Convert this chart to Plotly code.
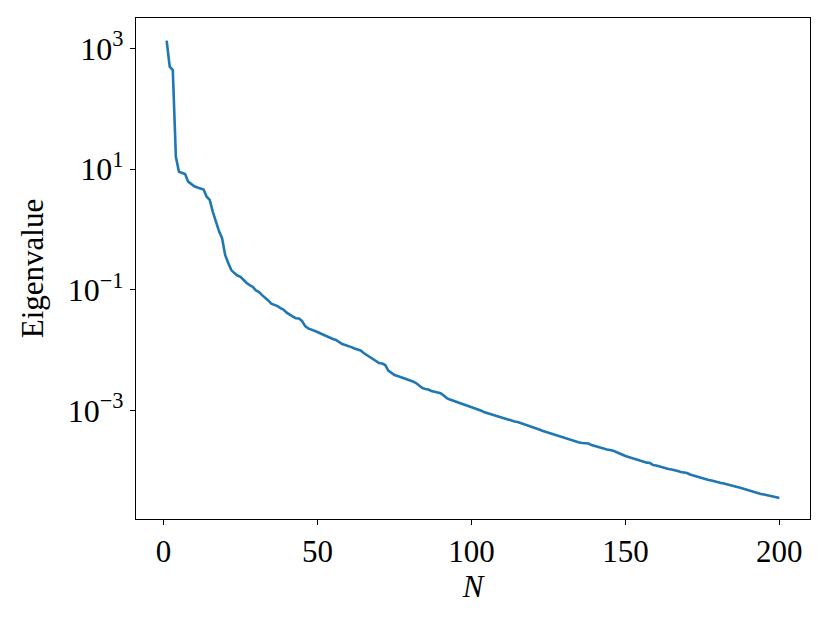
import plotly.graph_objects as go

# Eigenvalue index
n_values = list(range(1, 201))

# Eigenvalues (log scale)
eigenvalues = [
    1340, 495, 437, 16.0, 9.06, 8.7, 8.3, 6.2, 5.6, 5.2,
    4.95, 4.8, 4.6, 3.5, 3.1, 1.96, 1.33, 0.94, 0.72, 0.38,
    0.28, 0.213, 0.19, 0.173, 0.165, 0.146, 0.130, 0.120, 0.112, 0.098,
    0.092, 0.082, 0.075, 0.067, 0.059, 0.057, 0.054, 0.050, 0.047, 0.042,
    0.0385, 0.036, 0.034, 0.0336, 0.0305, 0.0252, 0.0230, 0.0221, 0.0210, 0.0201,
    0.0190, 0.0179, 0.0169, 0.0160, 0.0154, 0.0148, 0.0135, 0.0127, 0.0122, 0.0118,
    0.0113, 0.0107, 0.0103, 0.00993, 0.00902, 0.00836, 0.00775, 0.00718, 0.00665, 0.00617,
    0.00604, 0.00571, 0.00462, 0.00420, 0.00390, 0.00375, 0.00361, 0.00348, 0.00335, 0.00322,
    0.00304, 0.00287, 0.00261, 0.00238, 0.00229, 0.00224, 0.00212, 0.00204, 0.00200, 0.00194,
    0.00179, 0.00162, 0.00153, 0.00147, 0.00142, 0.00137, 0.00129, 0.00124, 0.00120, 0.00115,
    0.00111, 0.00107, 0.00101, 0.000951, 0.000916, 0.000892, 0.000865, 0.000832, 0.000801, 0.000771,
    0.000729, 0.000702, 0.000683, 0.000663, 0.000650, 0.000626, 0.000603, 0.000580, 0.000558, 0.000543,
    0.000517, 0.000489, 0.000467, 0.000449, 0.000428, 0.000411, 0.000396, 0.000381, 0.000367, 0.000353,
    0.000344, 0.000333, 0.000321, 0.000309, 0.000297, 0.000292, 0.000288, 0.000286, 0.000270, 0.000260,
    0.000253, 0.000246, 0.000237, 0.000228, 0.000223, 0.000218, 0.000207, 0.000195, 0.000185, 0.000178,
    0.000171, 0.000165, 0.000158, 0.000153, 0.000147, 0.000141, 0.000138, 0.000136, 0.000126, 0.000124,
    0.000119, 0.000115, 0.000111, 0.000108, 0.000106, 0.000104, 0.000100, 0.0000966, 0.0000942, 0.0000931,
    0.0000879, 0.0000846, 0.0000815, 0.0000798, 0.0000754, 0.0000726, 0.0000712, 0.0000698, 0.0000673, 0.0000648,
    0.0000635, 0.0000623, 0.0000600, 0.0000578, 0.0000567, 0.0000552, 0.0000535, 0.0000515, 0.0000496, 0.0000477,
    0.0000468, 0.0000451, 0.0000434, 0.0000418, 0.0000410, 0.0000402, 0.0000391, 0.0000379, 0.0000370, 0.0000358,
]

x_tickvals = [0, 50, 100, 150, 200]
x_ticktext = ["0", "50", "100", "150", "200"]
y_tickvals = [1e3, 1e1, 1e-1, 1e-3]
y_ticktext = ["10<sup>3</sup>", "10<sup>1</sup>", "10<sup>\u22121</sup>", "10<sup>\u22123</sup>"]

FONT = "Liberation Serif"

fig = go.Figure()
fig.add_trace(go.Scatter(
    x=n_values, y=eigenvalues, mode="lines",
    line=dict(color="#1f77b4", width=2.6),
    showlegend=False,
))

# the page body adds an 8px offset, compensated in the margins
fig.update_layout(
    width=830, height=623,
    margin=dict(l=128, r=28, t=10, b=112),
    paper_bgcolor="white", plot_bgcolor="white",
    font=dict(family=FONT, size=31, color="black"),
)

fig.update_xaxes(
    range=[-8.95, 209.95],
    tickvals=x_tickvals, ticktext=x_ticktext,
    ticks="outside", ticklen=5, tickwidth=1.1, tickcolor="black",
    showline=True, linecolor="black", linewidth=1.1, mirror=True,
    showgrid=False, zeroline=False,
    tickfont=dict(family=FONT, size=31),
    title=dict(text="<i>N</i>", font=dict(family=FONT, size=31), standoff=4),
)

fig.update_yaxes(
    type="log",
    range=[-4.793, 3.502],
    tickvals=y_tickvals, ticktext=y_ticktext,
    ticks="outside", ticklen=5, tickwidth=1.1, tickcolor="black",
    showline=True, linecolor="black", linewidth=1.1, mirror=True,
    showgrid=False, zeroline=False,
    tickfont=dict(family=FONT, size=32),
    title=dict(text="Eigenvalue", font=dict(family=FONT, size=31), standoff=14),
)

fig.write_html("out.html")
